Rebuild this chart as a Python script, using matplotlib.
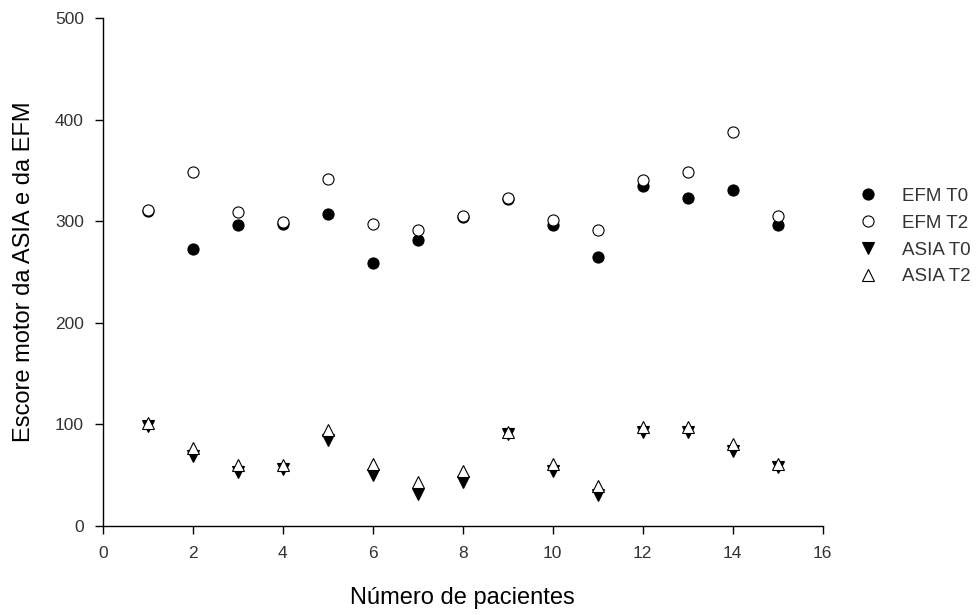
import matplotlib
matplotlib.use("Agg")
import matplotlib.pyplot as plt

plt.rcParams['font.family'] = ['Liberation Sans', 'DejaVu Sans']

pacientes = [1, 2, 3, 4, 5, 6, 7, 8, 9, 10, 11, 12, 13, 14, 15]
efm_t0 = [310, 273, 296, 297, 307, 259, 281, 304, 322, 296, 265, 335, 323, 331, 296]
efm_t2 = [311, 348, 309, 299, 341, 297, 291, 305, 323, 301, 291, 340, 348, 388, 305]
asia_t0 = [98, 69, 53, 56, 84, 50, 31, 43, 90, 54, 30, 92, 92, 74, 58]
asia_t2 = [101, 77, 60, 60, 94, 61, 43, 54, 92, 61, 39, 97, 97, 80, 61]

x_ticks = [0, 2, 4, 6, 8, 10, 12, 14, 16]
y_ticks = [0, 100, 200, 300, 400, 500]

fig = plt.figure(figsize=(9.78, 6.15), dpi=100)
ax = fig.add_axes([0.105, 0.1452, 0.7362, 0.8255])

ax.plot(pacientes, efm_t0, linestyle='none', marker='o', ms=8, mfc='black', mec='black', mew=0.8, label='EFM T0', zorder=3)
ax.plot(pacientes, efm_t2, linestyle='none', marker='o', ms=8, mfc='white', mec='black', mew=0.8, label='EFM T2', zorder=4)
ax.plot(pacientes, asia_t0, linestyle='none', marker='v', ms=8.5, mfc='black', mec='black', mew=0.8, label='ASIA T0', zorder=3)
ax.plot(pacientes, asia_t2, linestyle='none', marker='^', ms=8.5, mfc='white', mec='black', mew=0.8, label='ASIA T2', zorder=4)

ax.set_xlim(0, 16)
ax.set_ylim(0, 500)
ax.set_xticks(x_ticks)
ax.set_yticks(y_ticks)
ax.spines['top'].set_visible(False)
ax.spines['right'].set_visible(False)
for s in ('left', 'bottom'):
    ax.spines[s].set_linewidth(1.0)
ax.tick_params(direction='out', length=5.5, width=1.0, labelsize=12.5, labelcolor='#333333', pad=8)
ax.tick_params(axis='x', pad=9)

ax.set_xlabel('Número de pacientes', fontsize=17, labelpad=19)
ax.set_ylabel('Escore motor da ASIA e da EFM', fontsize=17, labelpad=14)

handles, labels = ax.get_legend_handles_labels()
fig.legend(handles, labels, loc='center left', bbox_to_anchor=(0.878, 0.6154),
           frameon=False, fontsize=13.5, handlelength=1.0, handletextpad=1.3,
           labelspacing=0.52, borderpad=0, borderaxespad=0, labelcolor='#333333')

fig.savefig('out.png', dpi=100)
